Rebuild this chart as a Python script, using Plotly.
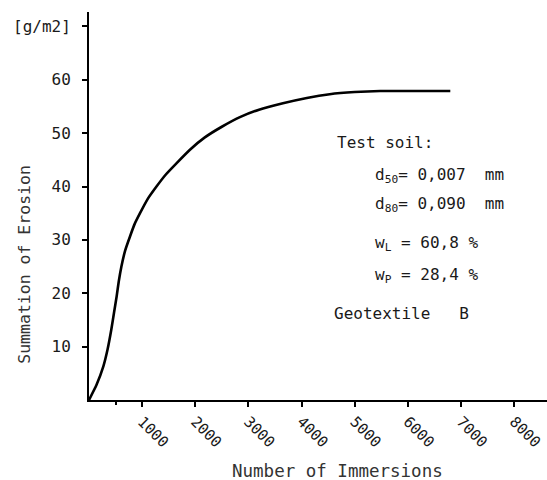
import plotly.graph_objects as go

# Data
immersions = [0, 140, 270, 350, 420, 470, 520, 560, 610, 680, 770, 860, 960, 1100, 1270,
              1450, 1650, 1900, 2180, 2500, 2840, 3200, 3650, 4100, 4530, 5000, 5480, 6100, 6800]
erosion = [0, 2.8, 6.3, 9.5, 13.2, 16.3, 19.4, 22.2, 25.0, 28.0, 30.6, 33.0, 35.0, 37.6, 40.0,
           42.3, 44.4, 46.9, 49.2, 51.2, 53.0, 54.4, 55.6, 56.6, 57.3, 57.7, 57.9, 57.9, 57.9]

x_tickvals = [1000, 2000, 3000, 4000, 5000, 6000, 7000, 8000]
x_ticktext = ["1000", "2000", "3000", "4000", "5000", "6000", "7000", "8000"]
y_tickvals = [10, 20, 30, 40, 50, 60, 70]
y_ticktext = ["10", "20", "30", "40", "50", "60", "[g/m2]"]

NB = "\u00a0"
info_lines = [
    ("Test" + NB + "soil:", 4630, 48.2),
    ("d<sub>50</sub>=" + NB + "0,007" + NB * 2 + "mm", 5345, 42.0),
    ("d<sub>80</sub>=" + NB + "0,090" + NB * 2 + "mm", 5345, 36.7),
    ("w<sub>L</sub>" + NB + "=" + NB + "60,8" + NB + "%", 5345, 29.3),
    ("w<sub>P</sub>" + NB + "=" + NB + "28,4" + NB + "%", 5345, 23.3),
    ("Geotextile" + NB * 3 + "B", 4570, 16.2),
]

FONT = "DejaVu Sans Mono"
INK = "#1a1a1a"

fig = go.Figure()
fig.add_trace(go.Scatter(
    x=immersions, y=erosion, mode="lines",
    line=dict(color="black", width=2.6, shape="spline", smoothing=0.5),
    hoverinfo="skip", showlegend=False,
))

annotations = []
for text, xv, yv in info_lines:
    annotations.append(dict(
        x=xv, y=yv, xref="x", yref="y", text=text, showarrow=False,
        xanchor="left", yanchor="middle",
        font=dict(family=FONT, size=16, color=INK),
    ))

annotations.append(dict(
    x=-0.14, y=25.5, xref="paper", yref="y", text="Summation" + NB + "of" + NB + "Erosion",
    textangle=-90, showarrow=False, xanchor="center", yanchor="middle",
    font=dict(family=FONT, size=16.5, color="#333"),
))
annotations.append(dict(
    x=4677, y=-0.182, xref="x", yref="paper", text="Number" + NB + "of" + NB + "Immersions",
    showarrow=False, xanchor="center", yanchor="middle",
    font=dict(family=FONT, size=17.5, color="#333"),
))

fig.update_layout(
    width=547, height=480,
    margin=dict(l=89, r=0, t=12, b=80, pad=0, autoexpand=False),
    paper_bgcolor="white", plot_bgcolor="white",
    annotations=annotations,
    xaxis=dict(
        range=[0, 8620], showgrid=False, zeroline=False, automargin=False,
        showline=True, linecolor="black", linewidth=2,
        ticks="outside", ticklen=5, tickwidth=2, tickcolor="black",
        tickvals=x_tickvals, ticktext=x_ticktext, tickangle=45,
        tickfont=dict(family=FONT, size=15, color=INK),
        minor=dict(tickvals=[500], ticks="outside", ticklen=3, tickwidth=2, tickcolor="black"),
    ),
    yaxis=dict(
        range=[0, 72.7], showgrid=False, zeroline=False, automargin=False,
        showline=True, linecolor="black", linewidth=2,
        ticks="outside", ticklen=5, tickwidth=2, tickcolor="black",
        tickvals=y_tickvals, ticktext=y_ticktext,
        ticklabelstandoff=8,
        tickfont=dict(family=FONT, size=16, color=INK),
    ),
)

fig.write_html(
    "out.html",
    config={"displayModeBar": False},
    post_script="document.body.style.margin='0';document.body.style.overflow='hidden';",
)
